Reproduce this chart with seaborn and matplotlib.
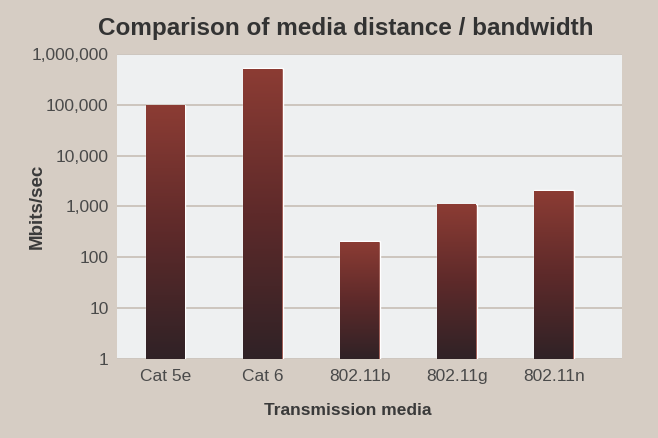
import matplotlib
matplotlib.use("Agg")
import matplotlib.pyplot as plt
from matplotlib.colors import LinearSegmentedColormap
from matplotlib.ticker import FuncFormatter, NullLocator
import seaborn as sb
import numpy as np

# data
media = ["Cat 5e", "Cat 6", "802.11b", "802.11g", "802.11n"]
mbits = [100000, 520000, 205, 1130, 2100]
yticks = [1, 10, 100, 1000, 10000, 100000, 1000000]

bgcolor = "#d6cdc4"
plotcolor = "#eef0f1"
gridcolor = "#c3bab0"
textcolor = "#3a3a3a"
bartop = "#8c3c34"
barbottom = "#302226"

sb.set_style("white")
plt.rcParams["font.family"] = ["Liberation Sans", "DejaVu Sans"]

fig = plt.figure(figsize=(6.58, 4.38), dpi=100, facecolor=bgcolor)
ax = fig.add_axes([0.1778, 0.1804, 0.7675, 0.6963])
ax.set_facecolor(plotcolor)

xmin, xmax = -0.5, 4.7

sb.barplot(x=media, y=mbits, ax=ax, width=0.41, color=bartop, saturation=1)
ax.set_yscale("log")
ax.set_ylim(1, 1000000)
ax.set_xlim(xmin, xmax)

# gradient fill for every bar, dark at the bottom, red at the top
cmap = LinearSegmentedColormap.from_list("bars", [barbottom, "#5e2a2a", bartop])
grad = np.linspace(0, 1, 256).reshape(-1, 1)
to_axes = ax.transAxes.inverted()
for p in list(ax.patches):
    x0 = p.get_x()
    x1 = x0 + p.get_width()
    ytop = to_axes.transform(ax.transData.transform((x0, p.get_height())))[1]
    ax.imshow(grad, cmap=cmap, origin="lower", aspect="auto",
              extent=(x0, x1, 0, ytop), transform=ax.get_xaxis_transform(),
              zorder=3, interpolation="bilinear")
ax.set_yscale("log")
ax.set_ylim(1, 1000000)
ax.set_xlim(xmin, xmax)

ax.set_yticks(yticks)
ax.yaxis.set_minor_locator(NullLocator())
ax.yaxis.set_major_formatter(FuncFormatter(lambda v, pos: "{:,}".format(int(round(v)))))
ax.yaxis.grid(True, color=gridcolor, linewidth=1.1)
ax.set_axisbelow(True)
for s in ax.spines.values():
    s.set_visible(False)

ax.tick_params(axis="both", length=0, labelsize=12.5, labelcolor="#4a4a4a")
ax.tick_params(axis="y", pad=6)
ax.tick_params(axis="x", pad=7)

ax.set_xlabel("Transmission media", fontsize=12.5, fontweight="bold",
              color=textcolor)
ax.xaxis.set_label_coords(0.457, -0.145)
ax.set_ylabel("Mbits/sec", fontsize=13.5, fontweight="bold",
              color=textcolor)
ax.yaxis.set_label_coords(-0.142, 0.5)

fig.text(0.525, 0.936, "Comparison of media distance / bandwidth",
         ha="center", va="center", fontsize=17.5, fontweight="bold",
         color="#333333")

plt.savefig("out.png", dpi=100, facecolor=bgcolor)
